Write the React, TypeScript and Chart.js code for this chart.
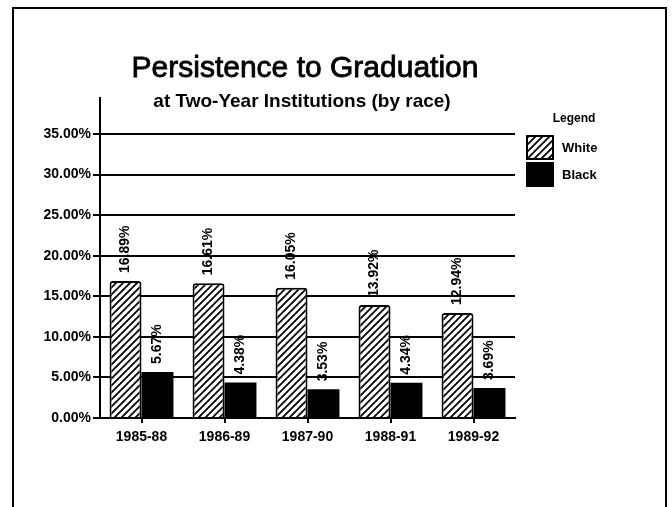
import React, { useEffect, useRef } from "react";
import { Chart, registerables } from "chart.js";

Chart.register(...registerables);

const categories = ["1985-88", "1986-89", "1987-90", "1988-91", "1989-92"];
const seriesNames = ["White", "Black"];
const whiteValues = [16.89, 16.61, 16.05, 13.92, 12.94];
const blackValues = [5.67, 4.38, 3.53, 4.34, 3.69];
const yTicks = [0, 5, 10, 15, 20, 25, 30, 35];
const titleText = "Persistence to Graduation";
const subtitleText = "at Two-Year Institutions (by race)";
const legendTitle = "Legend";

const FONT = "'Liberation Sans', Arial, Helvetica, sans-serif";

function makeHatch(): CanvasPattern | string {
  const c = document.createElement("canvas");
  c.width = 7;
  c.height = 7;
  const g = c.getContext("2d");
  if (!g) return "#fff";
  g.fillStyle = "#fff";
  g.fillRect(0, 0, 7, 7);
  g.strokeStyle = "#000";
  g.lineWidth = 1.8;
  g.beginPath();
  g.moveTo(-1, 8);
  g.lineTo(8, -1);
  g.moveTo(-1, 1);
  g.lineTo(1, -1);
  g.moveTo(6, 8);
  g.lineTo(8, 6);
  g.stroke();
  const p = g.createPattern(c, "repeat");
  return p || "#fff";
}

export default function App() {
  const ref = useRef<HTMLCanvasElement | null>(null);

  useEffect(() => {
    document.body.style.margin = "0";
    const canvas = ref.current;
    if (!canvas) return;
    const hatch = makeHatch();

    const decor = {
      id: "decor",
      beforeDraw(chart: any) {
        const ctx = chart.ctx;
        ctx.save();
        ctx.fillStyle = "#fff";
        ctx.fillRect(0, 0, chart.width, chart.height);
        // frame
        ctx.strokeStyle = "#000";
        ctx.lineWidth = 2;
        ctx.beginPath();
        ctx.moveTo(13, 507);
        ctx.lineTo(13, 8);
        ctx.lineTo(666, 8);
        ctx.lineTo(666, 507);
        ctx.stroke();
        // titles
        ctx.fillStyle = "#000";
        ctx.textAlign = "center";
        ctx.textBaseline = "alphabetic";
        ctx.font = `normal 30px ${FONT}`;
        ctx.lineWidth = 0.8;
        ctx.fillText(titleText, 305, 77);
        ctx.strokeText(titleText, 305, 77);
        ctx.font = `bold 19px ${FONT}`;
        ctx.fillText(subtitleText, 302, 107);
        // y-axis extension above the plot
        ctx.lineWidth = 2;
        const left = chart.chartArea.left;
        ctx.beginPath();
        ctx.moveTo(left, 97);
        ctx.lineTo(left, chart.chartArea.top + 1);
        ctx.stroke();
        // legend
        ctx.font = `bold 12px ${FONT}`;
        ctx.textAlign = "center";
        ctx.fillText(legendTitle, 574, 122);
        const ds = chart.data.datasets;
        const boxes = [136, 163];
        ds.forEach((d: any, i: number) => {
          const y = boxes[i];
          ctx.fillStyle = d.backgroundColor;
          ctx.fillRect(527, y, 26, 23);
          ctx.strokeStyle = "#000";
          ctx.lineWidth = 2;
          ctx.strokeRect(527, y, 26, 23);
          ctx.fillStyle = "#000";
          ctx.textAlign = "left";
          ctx.textBaseline = "middle";
          ctx.font = `bold 13px ${FONT}`;
          ctx.fillText(d.label, 562, y + 12);
        });
        ctx.restore();
      },
      afterDatasetsDraw(chart: any) {
        const ctx = chart.ctx;
        ctx.save();
        ctx.fillStyle = "#000";
        ctx.font = `bold 14px ${FONT}`;
        ctx.textAlign = "left";
        ctx.textBaseline = "middle";
        chart.data.datasets.forEach((d: any, di: number) => {
          const meta = chart.getDatasetMeta(di);
          meta.data.forEach((el: any, i: number) => {
            const v = d.data[i];
            ctx.save();
            ctx.translate(el.x, el.y - 8);
            ctx.rotate(-Math.PI / 2);
            ctx.fillText(v.toFixed(2) + "%", 0, 0);
            ctx.restore();
          });
        });
        ctx.restore();
      },
    };

    const chart = new Chart(canvas, {
      type: "bar",
      data: {
        labels: categories,
        datasets: [
          {
            label: seriesNames[0],
            data: whiteValues,
            backgroundColor: hatch as any,
            borderColor: "#000",
            borderWidth: 2,
            borderRadius: 3,
            borderSkipped: "bottom",
            categoryPercentage: 0.77,
            barPercentage: 1.0,
          },
          {
            label: seriesNames[1],
            data: blackValues,
            backgroundColor: "#000",
            borderColor: "#000",
            borderWidth: 0,
            categoryPercentage: 0.77,
            barPercentage: 1.0,
          },
        ],
      },
      options: {
        responsive: false,
        animation: false,
        layout: { padding: { left: 0, top: 134, right: 157, bottom: 0 } },
        plugins: {
          legend: { display: false },
          title: { display: false },
          tooltip: { enabled: false },
        },
        scales: {
          x: {
            grid: {
              display: true,
              drawOnChartArea: false,
              offset: false,
              tickLength: 5,
              color: "#000",
              lineWidth: 2,
            },
            border: { display: true, color: "#000", width: 2 },
            ticks: {
              color: "#000",
              padding: 6,
              font: { family: FONT, size: 14, weight: "bold" },
              maxRotation: 0,
            },
            afterFit(s: any) {
              s.height = 89;
            },
          },
          y: {
            min: 0,
            max: 35,
            afterBuildTicks(s: any) {
              s.ticks = yTicks.map((v) => ({ value: v }));
            },
            grid: {
              color: "#000",
              lineWidth: 2,
              tickLength: 7,
            },
            border: { display: true, color: "#000", width: 2 },
            ticks: {
              color: "#000",
              padding: 2,
              font: { family: FONT, size: 14, weight: "bold" },
              callback: (v: any) => Number(v).toFixed(2) + "%",
            },
            afterFit(s: any) {
              s.width = 100;
            },
          },
        },
      },
      plugins: [decor],
    });

    return () => chart.destroy();
  }, []);

  return (
    <div style={{ position: "fixed", left: 0, top: 0, width: 672, height: 507, background: "#fff" }}>
      <canvas ref={ref} width={672} height={507} style={{ width: 672, height: 507, display: "block" }} />
    </div>
  );
}
